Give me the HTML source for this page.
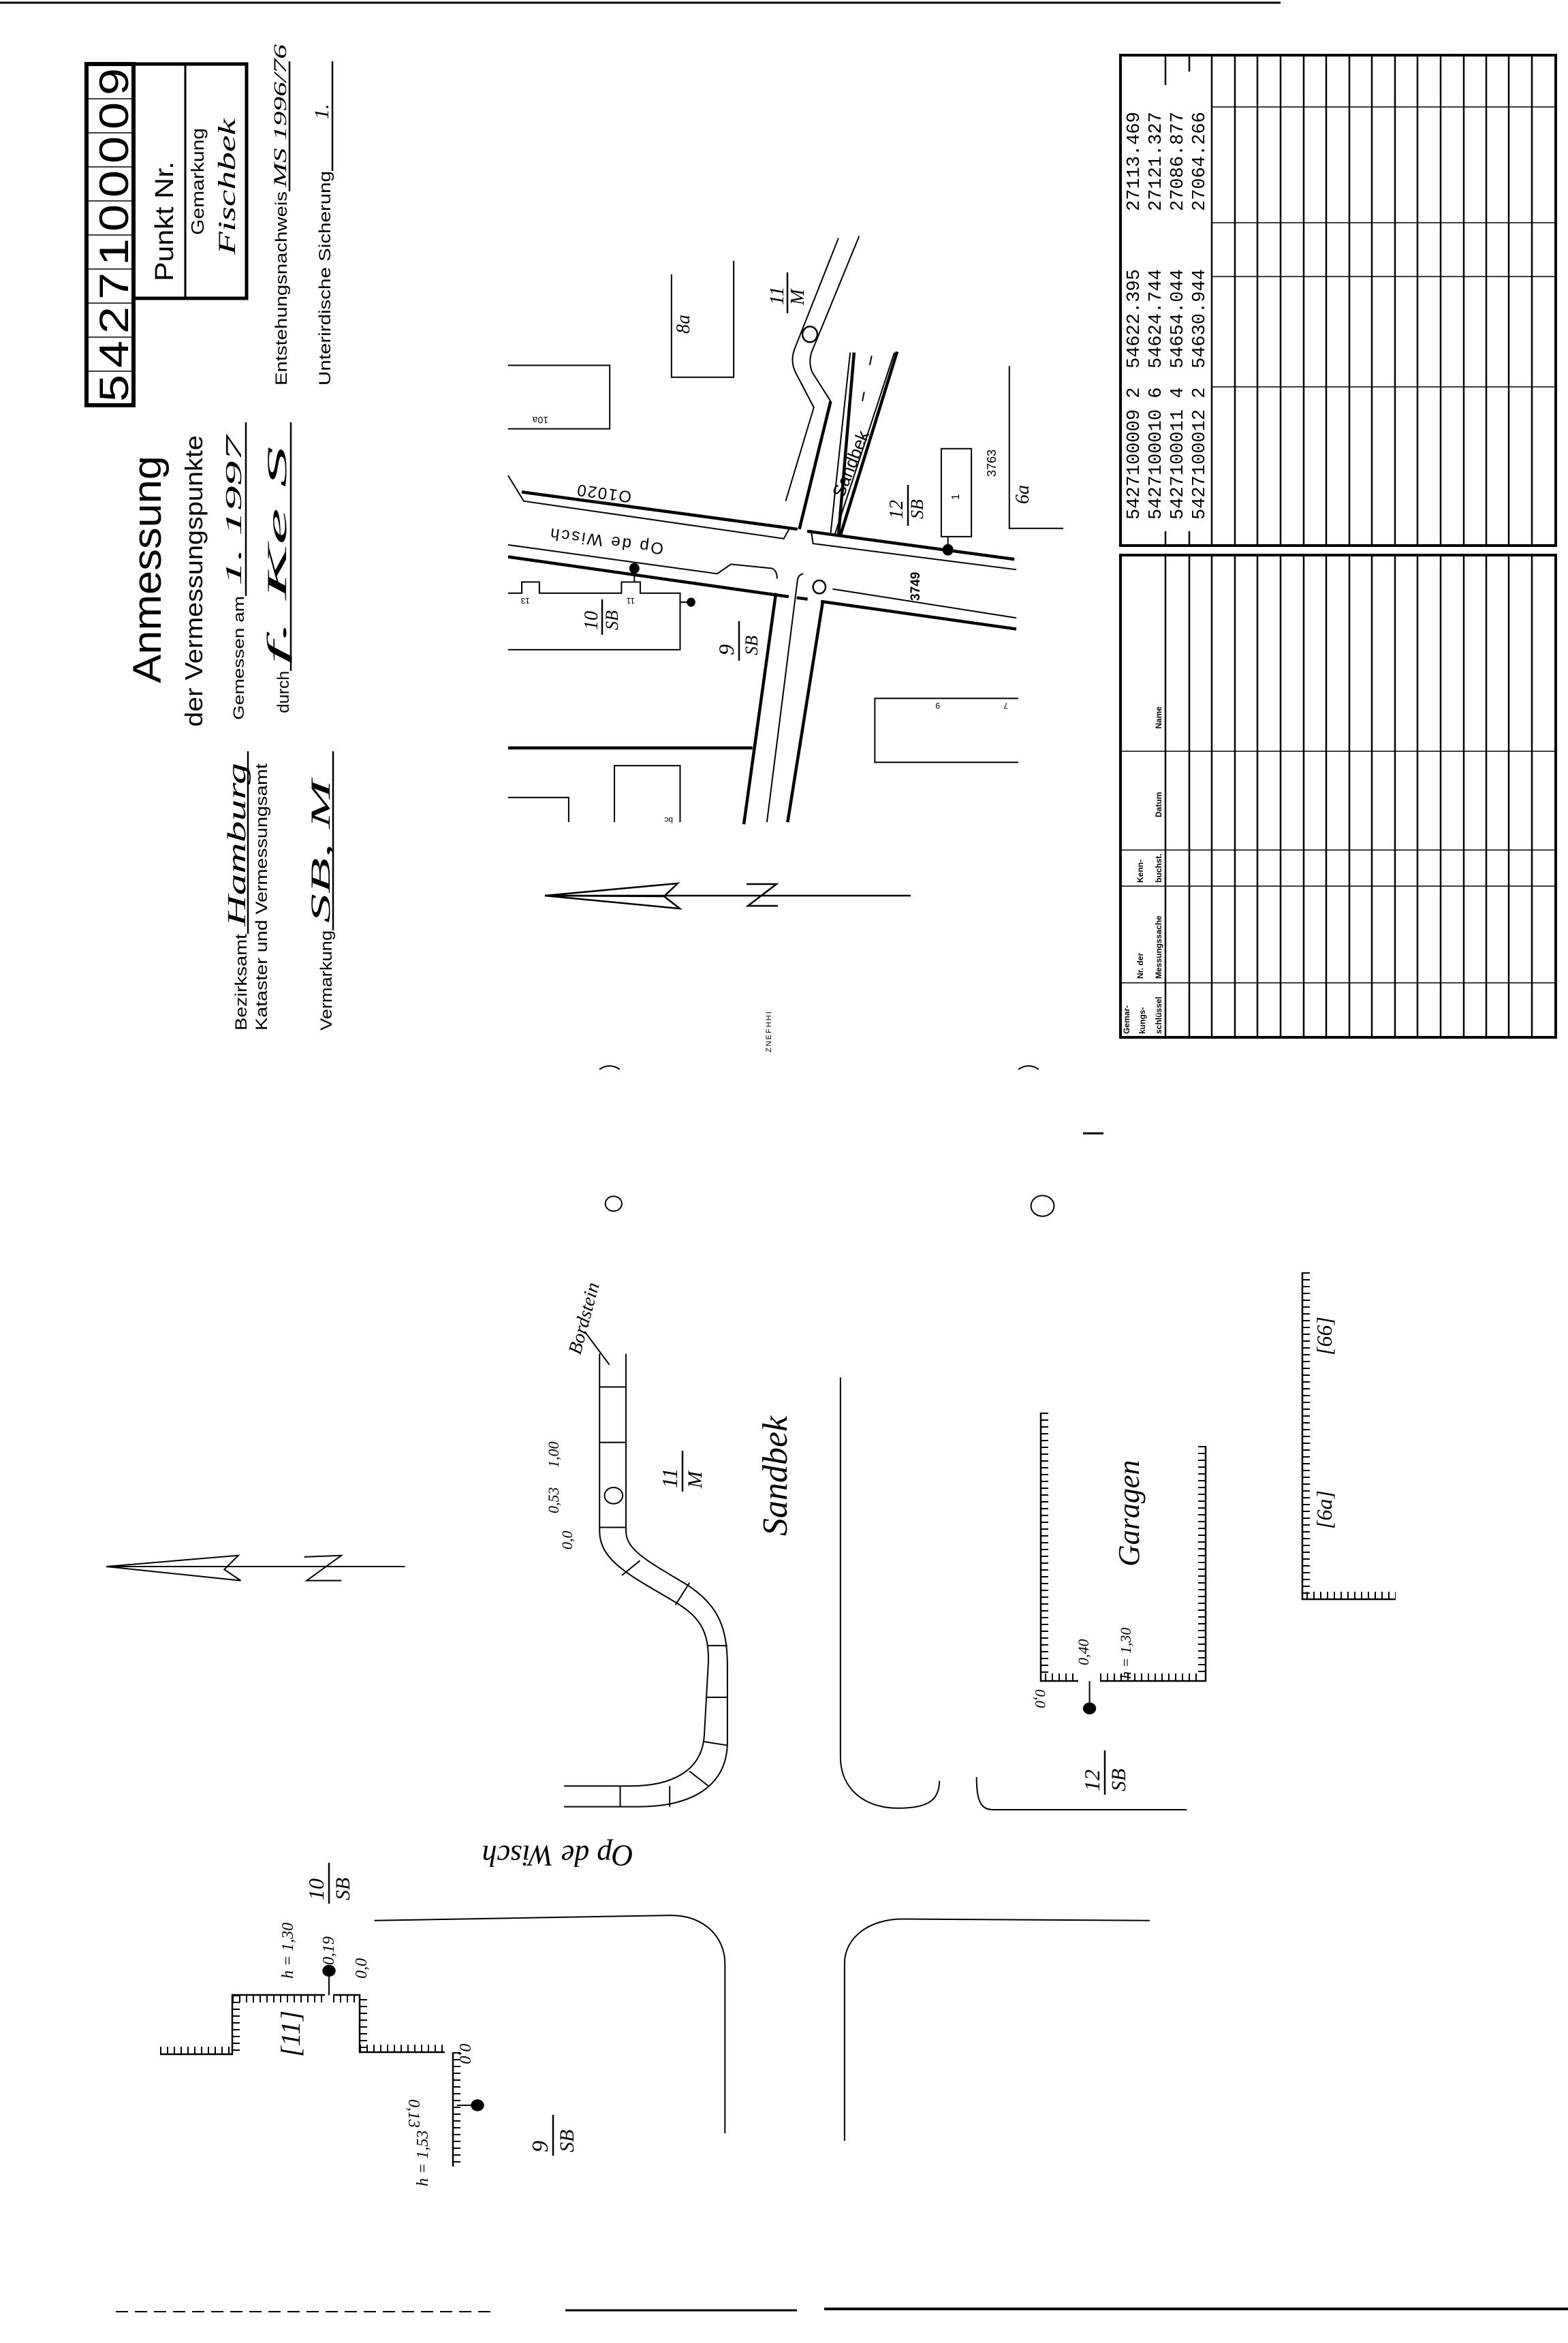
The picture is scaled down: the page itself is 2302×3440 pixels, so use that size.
<!DOCTYPE html>
<html><head><meta charset="utf-8"><style>
html,body{margin:0;padding:0;background:#fff;}
svg{display:block;}
text{font-family:"Liberation Sans",sans-serif;fill:#000;}
.hw{font-family:"Liberation Serif",serif;font-style:italic;}
.hh{font-family:"Liberation Serif",serif;font-style:italic;fill:#fff;stroke:#000;stroke-width:1.6;}
.mono{font-family:"Liberation Mono",monospace;}
.ns{vector-effect:non-scaling-stroke;}
</style></head><body>
<svg width="2302" height="3440" viewBox="0 0 2302 3440" xmlns="http://www.w3.org/2000/svg">
<rect width="2302" height="3440" fill="#fff"/>
<!-- page edges -->
<line x1="0" y1="4" x2="1880" y2="4" stroke="#000" stroke-width="3"/>
<line x1="830" y1="3392" x2="1170" y2="3392" stroke="#000" stroke-width="3"/>
<line x1="1210" y1="3390" x2="2302" y2="3390" stroke="#000" stroke-width="4"/>
<line x1="170" y1="3394" x2="720" y2="3394" stroke="#000" stroke-width="2" stroke-dasharray="18 10"/>
<line x1="1590" y1="1664" x2="1620" y2="1664" stroke="#000" stroke-width="3"/>

<!-- HEADER BOX -->
<g fill="none" stroke="#000">
<rect x="127" y="94" width="69" height="501" stroke-width="6"/>
<polyline points="196,94 362,94 362,438 196,438" stroke-width="5"/>
<line x1="272" y1="94" x2="272" y2="438" stroke-width="3"/>
<g stroke-width="1.5">
<line x1="127" y1="145" x2="196" y2="145"/><line x1="127" y1="195" x2="196" y2="195"/>
<line x1="127" y1="245" x2="196" y2="245"/><line x1="127" y1="295" x2="196" y2="295"/>
<line x1="127" y1="345" x2="196" y2="345"/><line x1="127" y1="395" x2="196" y2="395"/>
<line x1="127" y1="445" x2="196" y2="445"/><line x1="127" y1="495" x2="196" y2="495"/>
<line x1="127" y1="545" x2="196" y2="545"/>
</g>
</g>
<g font-size="60">
<text transform="translate(188,590) rotate(-90)" textLength="40" lengthAdjust="spacingAndGlyphs">5</text>
<text transform="translate(188,540) rotate(-90)" textLength="40" lengthAdjust="spacingAndGlyphs">4</text>
<text transform="translate(188,490) rotate(-90)" textLength="40" lengthAdjust="spacingAndGlyphs">2</text>
<text transform="translate(188,440) rotate(-90)" textLength="40" lengthAdjust="spacingAndGlyphs">7</text>
<text transform="translate(188,390) rotate(-90)" textLength="40" lengthAdjust="spacingAndGlyphs">1</text>
<text transform="translate(188,340) rotate(-90)" textLength="40" lengthAdjust="spacingAndGlyphs">0</text>
<text transform="translate(188,290) rotate(-90)" textLength="40" lengthAdjust="spacingAndGlyphs">0</text>
<text transform="translate(188,240) rotate(-90)" textLength="40" lengthAdjust="spacingAndGlyphs">0</text>
<text transform="translate(188,190) rotate(-90)" textLength="40" lengthAdjust="spacingAndGlyphs">0</text>
<text transform="translate(188,140) rotate(-90)" textLength="40" lengthAdjust="spacingAndGlyphs">9</text>
</g>
<text transform="translate(254,413) rotate(-90)" font-size="38" textLength="176" lengthAdjust="spacingAndGlyphs">Punkt Nr.</text>
<text transform="translate(299,345) rotate(-90)" font-size="26" textLength="157" lengthAdjust="spacingAndGlyphs">Gemarkung</text>
<text class="hw" transform="translate(345,374) rotate(-90)" font-size="36" textLength="200" lengthAdjust="spacingAndGlyphs" fill="#333">Fischbek</text>

<text transform="translate(236,1003) rotate(-90)" font-size="58" textLength="334" lengthAdjust="spacingAndGlyphs">Anmessung</text>
<text transform="translate(297,1067) rotate(-90)" font-size="36" textLength="428" lengthAdjust="spacingAndGlyphs">der Vermessungspunkte</text>
<text transform="translate(358,1057) rotate(-90)" font-size="22" textLength="182" lengthAdjust="spacingAndGlyphs">Gemessen am</text>
<text class="hw" transform="translate(354,860) rotate(-90)" font-size="34" textLength="220" lengthAdjust="spacingAndGlyphs" fill="#333">1. 1997</text>
<text transform="translate(424,1047) rotate(-90)" font-size="24" textLength="62" lengthAdjust="spacingAndGlyphs">durch</text>
<text class="hw" transform="translate(420,975) rotate(-90)" font-size="40" textLength="320" lengthAdjust="spacingAndGlyphs" fill="#333">f.  Ke  S</text>
<text transform="translate(362,1513) rotate(-90)" font-size="24" textLength="142" lengthAdjust="spacingAndGlyphs">Bezirksamt</text>
<text class="hw" transform="translate(360,1360) rotate(-90)" font-size="38" textLength="240" lengthAdjust="spacingAndGlyphs" fill="#333">Hamburg</text>
<text transform="translate(392,1513) rotate(-90)" font-size="24" textLength="392" lengthAdjust="spacingAndGlyphs">Kataster und Vermessungsamt</text>
<text transform="translate(487,1513) rotate(-90)" font-size="24" textLength="147" lengthAdjust="spacingAndGlyphs">Vermarkung</text>
<text class="hw" transform="translate(484,1355) rotate(-90)" font-size="40" textLength="210" lengthAdjust="spacingAndGlyphs" fill="#333">SB, M</text>
<text transform="translate(421,566) rotate(-90)" font-size="24" textLength="285" lengthAdjust="spacingAndGlyphs">Entstehungsnachweis</text>
<text class="hw" transform="translate(420,275) rotate(-90)" font-size="26" textLength="210" lengthAdjust="spacingAndGlyphs" fill="#333">MS 1996/76</text>
<text transform="translate(485,566) rotate(-90)" font-size="24" textLength="315" lengthAdjust="spacingAndGlyphs">Unterirdische Sicherung</text>
<text class="hw" transform="translate(482,175) rotate(-90)" font-size="30">1.</text>
<g stroke="#000" stroke-width="2.5">
<line x1="361" y1="875" x2="361" y2="620"/>
<line x1="427" y1="985" x2="427" y2="620"/>
<line x1="364" y1="1371" x2="364" y2="1103"/>
<line x1="489" y1="1366" x2="489" y2="1103"/>
<line x1="425" y1="281" x2="425" y2="90"/>
<line x1="488" y1="251" x2="488" y2="90"/>
</g>

<!-- MAP -->
<g transform="translate(700,280) scale(0.574,0.606)" fill="none" stroke="#000">
<g stroke-width="2" class="ns">
<polyline class="ns" points="80,423 340,423 340,577 80,577"/>
<polyline class="ns" points="498,203 498,452 657,452 657,170"/>
<path class="ns" d="M925,115 L815,378 Q800,410 815,440 L862,525 L790,752"/>
<path class="ns" d="M978,110 L862,378 Q845,410 858,440 L905,510"/>
<line class="ns" x1="955" y1="392" x2="905" y2="830"/>
<line class="ns" x1="1068" y1="392" x2="915" y2="835"/>
<path class="ns" d="M80,690 L120,752 L785,843 L800,818"/>
<path class="ns" d="M855,822 L860,855 L1380,918"/>
<path class="ns" d="M80,858 L615,928 L650,905 L755,915 Q768,920 768,940"/>
<path class="ns" d="M835,928 Q822,930 820,945 L742,1530"/>
<path class="ns" d="M910,965 L1380,1035"/>
<polyline class="ns" points="80,975 115,975 115,948 160,948 160,975 370,975 370,948 418,948 418,975 520,975 520,1112 80,1112"/>
<rect class="ns" x="1188" y="625" width="77" height="213"/>
<polyline class="ns" points="1362,425 1362,818 1500,818"/>
<polyline class="ns" points="1385,1230 1018,1230 1018,1385 1385,1385"/>
<polyline class="ns" points="352,1530 352,1393 520,1393 520,1530"/>
<polyline class="ns" points="80,1470 235,1470 235,1530"/>
<line class="ns" x1="403" y1="915" x2="403" y2="948"/>
<line class="ns" x1="520" y1="997" x2="548" y2="997"/>
<line class="ns" x1="1205" y1="870" x2="1205" y2="838"/>
<line class="ns" x1="1010" y1="400" x2="975" y2="560" stroke-dasharray="14 40"/>
</g>
<g stroke-width="4.5">
<path class="ns" d="M905,510 L825,820"/>
<line class="ns" x1="965" y1="392" x2="925" y2="835"/>
<line class="ns" x1="1075" y1="390" x2="930" y2="835"/>
<line class="ns" x1="115" y1="730" x2="820" y2="820"/>
<line class="ns" x1="845" y1="825" x2="1375" y2="893"/>
<line class="ns" x1="80" y1="887" x2="770" y2="980"/>
<line class="ns" x1="770" y1="980" x2="850" y2="990" stroke-dasharray="16 12"/>
<line class="ns" x1="880" y1="995" x2="1380" y2="1062"/>
<line class="ns" x1="765" y1="975" x2="683" y2="1535"/>
<line class="ns" x1="885" y1="995" x2="795" y2="1530"/>
<line class="ns" x1="80" y1="1350" x2="705" y2="1350"/>
</g>
<circle class="ns" cx="852" cy="348" r="19" stroke-width="2.5"/>
<circle class="ns" cx="876" cy="960" r="16" stroke-width="2.5"/>
<circle cx="403" cy="915" r="13" fill="#000" stroke="none"/>
<circle cx="548" cy="997" r="11" fill="#000" stroke="none"/>
<circle cx="1205" cy="870" r="14" fill="#000" stroke="none"/>
</g>
<g>
<text transform="translate(805,612) rotate(180)" font-size="14">10a</text>
<text class="hw" transform="translate(1012,490) rotate(-90)" font-size="28">8a</text>
<text class="hw" transform="translate(1150,448) rotate(-90)" font-size="30">11</text>
<line x1="1156" y1="400" x2="1156" y2="460" stroke="#000" stroke-width="2.5"/>
<text class="hw" transform="translate(1180,448) rotate(-90)" font-size="28">M</text>
<text transform="translate(928,722) rotate(187.7)" font-size="24" letter-spacing="2">O1020</text>
<text transform="translate(975,798) rotate(187.7)" font-size="24" letter-spacing="3">Op de Wisch</text>
<text transform="translate(1238,732) rotate(-68)" font-size="26">Sandbek</text>
<text transform="translate(1462,700) rotate(-90)" font-size="18">3763</text>
<text class="hw" transform="translate(1510,740) rotate(-90)" font-size="28">6a</text>
<text class="hw" transform="translate(1325,762) rotate(-90)" font-size="28">12</text>
<line x1="1333" y1="712" x2="1333" y2="772" stroke="#000" stroke-width="2.5"/>
<text class="hw" transform="translate(1355,762) rotate(-90)" font-size="26">SB</text>
<text transform="translate(1408,734) rotate(-90)" font-size="16">1</text>
<text transform="translate(1350,882) rotate(-90)" font-size="19" font-weight="bold">3749</text>
<text class="hw" transform="translate(877,925) rotate(-90)" font-size="28">10</text>
<line x1="884" y1="880" x2="884" y2="932" stroke="#000" stroke-width="2.5"/>
<text class="hw" transform="translate(907,925) rotate(-90)" font-size="26">SB</text>
<text class="hw" transform="translate(1077,962) rotate(-90)" font-size="32">9</text>
<line x1="1085" y1="912" x2="1085" y2="970" stroke="#000" stroke-width="2.5"/>
<text class="hw" transform="translate(1112,962) rotate(-90)" font-size="26">SB</text>
<text transform="translate(778,878) rotate(180)" font-size="12">13</text>
<text transform="translate(932,878) rotate(180)" font-size="12">11</text>
<text transform="translate(1380,1032) rotate(180)" font-size="12">9</text>
<text transform="translate(1480,1032) rotate(180)" font-size="12">7</text>
<text transform="translate(988,1200) rotate(180)" font-size="12">bc</text>
</g>

<!-- upper north arrow -->
<g fill="none" stroke="#000" stroke-width="2.5">
<line x1="800" y1="1315" x2="1337" y2="1315"/>
<polyline points="800,1315 995,1297 975,1316 998,1334 800,1315"/>
<line x1="800" y1="1315" x2="975" y2="1316"/>
<polyline points="1096,1298 1140,1298 1098,1330 1142,1330"/>
</g>
<text transform="translate(1132,1545) rotate(-90)" font-size="11" letter-spacing="2">ZNEFHHI</text>
<path d="M880,1570 Q895,1560 910,1570" fill="none" stroke="#000" stroke-width="2"/>
<path d="M1495,1570 Q1510,1560 1525,1570" fill="none" stroke="#000" stroke-width="2"/>

<!-- TABLE -->
<g fill="none" stroke="#000">
<rect x="1645" y="81" width="639" height="720" stroke-width="4"/>
<rect x="1645" y="815" width="639" height="708" stroke-width="4"/>
<g stroke-width="2.5">
<line x1="1779" y1="81" x2="1779" y2="801"/><line x1="1813" y1="81" x2="1813" y2="801"/>
<line x1="1846" y1="81" x2="1846" y2="801"/><line x1="1880" y1="81" x2="1880" y2="801"/>
<line x1="1914" y1="81" x2="1914" y2="801"/><line x1="1947" y1="81" x2="1947" y2="801"/>
<line x1="1981" y1="81" x2="1981" y2="801"/><line x1="2014" y1="81" x2="2014" y2="801"/>
<line x1="2048" y1="81" x2="2048" y2="801"/><line x1="2081" y1="81" x2="2081" y2="801"/>
<line x1="2115" y1="81" x2="2115" y2="801"/><line x1="2149" y1="81" x2="2149" y2="801"/>
<line x1="2182" y1="81" x2="2182" y2="801"/><line x1="2215" y1="81" x2="2215" y2="801"/>
<line x1="2249" y1="81" x2="2249" y2="801"/>
<line x1="1711" y1="81" x2="1711" y2="125"/><line x1="1746" y1="81" x2="1746" y2="105"/>
<line x1="1711" y1="780" x2="1711" y2="801"/><line x1="1746" y1="780" x2="1746" y2="801"/>
<line x1="1711" y1="815" x2="1711" y2="1523"/><line x1="1746" y1="815" x2="1746" y2="1523"/>
<line x1="1779" y1="815" x2="1779" y2="1523"/><line x1="1813" y1="815" x2="1813" y2="1523"/>
<line x1="1846" y1="815" x2="1846" y2="1523"/><line x1="1880" y1="815" x2="1880" y2="1523"/>
<line x1="1914" y1="815" x2="1914" y2="1523"/><line x1="1947" y1="815" x2="1947" y2="1523"/>
<line x1="1981" y1="815" x2="1981" y2="1523"/><line x1="2014" y1="815" x2="2014" y2="1523"/>
<line x1="2048" y1="815" x2="2048" y2="1523"/><line x1="2081" y1="815" x2="2081" y2="1523"/>
<line x1="2115" y1="815" x2="2115" y2="1523"/><line x1="2149" y1="815" x2="2149" y2="1523"/>
<line x1="2182" y1="815" x2="2182" y2="1523"/><line x1="2215" y1="815" x2="2215" y2="1523"/>
<line x1="2249" y1="815" x2="2249" y2="1523"/>
</g>
<g stroke-width="1.5">
<line x1="1779" y1="157" x2="2284" y2="157"/>
<line x1="1779" y1="327" x2="2284" y2="327"/>
<line x1="1779" y1="406" x2="2284" y2="406"/>
<line x1="1779" y1="568" x2="2284" y2="568"/>
<line x1="1645" y1="1103" x2="2284" y2="1103"/>
<line x1="1645" y1="1248" x2="2284" y2="1248"/>
<line x1="1645" y1="1301" x2="2284" y2="1301"/>
<line x1="1645" y1="1443" x2="2284" y2="1443"/>
</g>
</g>
<g class="mono" font-size="27">
<text class="mono" transform="translate(1672,763) rotate(-90)">5427100009 2</text>
<text class="mono" transform="translate(1704,763) rotate(-90)">5427100010 6</text>
<text class="mono" transform="translate(1736,763) rotate(-90)">5427100011 4</text>
<text class="mono" transform="translate(1768,763) rotate(-90)">5427100012 2</text>
<text class="mono" transform="translate(1672,541) rotate(-90)">54622.395</text>
<text class="mono" transform="translate(1704,541) rotate(-90)">54624.744</text>
<text class="mono" transform="translate(1736,541) rotate(-90)">54654.044</text>
<text class="mono" transform="translate(1768,541) rotate(-90)">54630.944</text>
<text class="mono" transform="translate(1672,310) rotate(-90)">27113.469</text>
<text class="mono" transform="translate(1704,310) rotate(-90)">27121.327</text>
<text class="mono" transform="translate(1736,310) rotate(-90)">27086.877</text>
<text class="mono" transform="translate(1768,310) rotate(-90)">27064.266</text>
</g>
<g font-size="12" font-weight="bold">
<text transform="translate(1705,1070) rotate(-90)">Name</text>
<text transform="translate(1705,1200) rotate(-90)">Datum</text>
<text transform="translate(1678,1296) rotate(-90)">Kenn-</text>
<text transform="translate(1705,1296) rotate(-90)">buchst.</text>
<text transform="translate(1678,1437) rotate(-90)">Nr. der</text>
<text transform="translate(1705,1437) rotate(-90)">Messungssache</text>
<text transform="translate(1658,1518) rotate(-90)">Gemar-</text>
<text transform="translate(1681,1518) rotate(-90)">kungs-</text>
<text transform="translate(1705,1518) rotate(-90)">schlüssel</text>
</g>

<!-- LOWER SKETCH -->
<g transform="translate(150,1700) scale(1.211,1.085)" fill="none" stroke="#000">
<g stroke-width="2" class="ns">
<path class="ns" d="M603,265 L603,505 C603,545 640,565 690,598 C725,620 735,640 735,680 L730,780 C728,830 690,850 640,850 L560,850"/>
<path class="ns" d="M635,265 L635,505 C635,530 660,545 705,575 C750,605 758,640 758,690 L758,790 C758,850 715,878 650,878 L560,878"/>
<path class="ns" d="M603,310 L635,310 M603,385 L635,385 M603,500 L635,500 M630,565 L652,545 M695,605 L712,575 M733,660 L758,660 M733,730 L758,730 M730,790 L758,795 M712,830 L735,850 M688,850 L688,878 M628,850 L628,878"/>
<path class="ns" d="M585,235 L615,280"/>
<path class="ns" d="M895,297 L895,810 C895,855 925,880 965,880 C1000,880 1015,870 1015,843"/>
<path class="ns" d="M1060,838 C1060,870 1065,882 1080,882 L1315,882"/>
<path class="ns" d="M330,1032 L690,1025 C730,1025 755,1055 755,1090 L755,1320"/>
<path class="ns" d="M900,1330 L900,1090 C900,1055 930,1030 970,1030 L1270,1032"/>
<circle class="ns" cx="620" cy="457" r="11"/>
<circle class="ns" cx="620" cy="62" r="10"/>
<circle class="ns" cx="1140" cy="65" r="14"/>
<line class="ns" x1="275" y1="1100" x2="275" y2="1133"/>
<line class="ns" x1="430" y1="1282" x2="455" y2="1282"/>
<line class="ns" x1="1197" y1="745" x2="1197" y2="708"/>
<line class="ns" x1="5" y1="553" x2="367" y2="553"/>
<polyline class="ns" points="5,553 165,538 148,557 168,572 5,553"/>
<polyline class="ns" points="245,540 290,538 248,572 290,572"/>
</g>
<circle cx="275" cy="1100" r="8" fill="#000" stroke="none"/>
<circle cx="455" cy="1282" r="8" fill="#000" stroke="none"/>
<circle cx="1197" cy="745" r="8" fill="#000" stroke="none"/>
</g>
<!-- hatched walls -->
<g fill="none" stroke="#000">
<g stroke-width="2.5">
<path d="M1528,2074 L1528,2468 L1583,2468 M1615,2468 L1770,2468 L1770,2123"/>
<path d="M1912,1868 L1912,2348 L2049,2348"/>
<path d="M235,3016 L341,3016 L341,2929 L477,2929 M489,2929 L528,2929 L528,3013 L653,3013 M665,3013 L665,3181"/>
</g>
<g stroke-width="10" stroke-dasharray="2 8">
<line x1="1534" y1="2074" x2="1534" y2="2462"/>
<line x1="1534" y1="2462" x2="1583" y2="2462"/>
<line x1="1615" y1="2462" x2="1764" y2="2462"/>
<line x1="1764" y1="2123" x2="1764" y2="2462"/>
<line x1="1918" y1="1868" x2="1918" y2="2342"/>
<line x1="1918" y1="2342" x2="2049" y2="2342"/>
<line x1="235" y1="3010" x2="341" y2="3010"/>
<line x1="347" y1="2929" x2="347" y2="3016"/>
<line x1="341" y1="2935" x2="477" y2="2935"/>
<line x1="489" y1="2935" x2="528" y2="2935"/>
<line x1="534" y1="2935" x2="534" y2="3013"/>
<line x1="528" y1="3007" x2="653" y2="3007"/>
<line x1="671" y1="3013" x2="671" y2="3181"/>
</g>
</g>
<g class="hw">
<text class="hw" transform="translate(852,1990) rotate(-75)" font-size="28">Bordstein</text>
<text class="hw" transform="translate(820,2155) rotate(-90)" font-size="22">1,00</text>
<text class="hw" transform="translate(820,2222) rotate(-90)" font-size="22">0,53</text>
<text class="hw" transform="translate(840,2275) rotate(-90)" font-size="22">0,0</text>
<text class="hw" transform="translate(994,2185) rotate(-90)" font-size="32">11</text>
<line x1="1002" y1="2130" x2="1002" y2="2190" stroke="#000" stroke-width="2.5"/>
<text class="hw" transform="translate(1030,2185) rotate(-90)" font-size="30">M</text>
<text class="hw" transform="translate(1155,2255) rotate(-90)" font-size="52">Sandbek</text>
<text class="hw" transform="translate(1672,2300) rotate(-90)" font-size="44">Garagen</text>
<text class="hw" transform="translate(1598,2445) rotate(-90)" font-size="22">0,40</text>
<text class="hw" transform="translate(1660,2465) rotate(-90)" font-size="22">h = 1,30</text>
<text class="hw" transform="translate(1520,2480) rotate(90)" font-size="22">0,0</text>
<text class="hw" transform="translate(1614,2630) rotate(-90)" font-size="32">12</text>
<line x1="1622" y1="2570" x2="1622" y2="2635" stroke="#000" stroke-width="2.5"/>
<text class="hw" transform="translate(1652,2630) rotate(-90)" font-size="30">SB</text>
<text class="hw" transform="translate(1955,1990) rotate(-90)" font-size="32">[66]</text>
<text class="hw" transform="translate(1955,2245) rotate(-90)" font-size="32">[6a]</text>
<text class="hw" transform="translate(930,2710) rotate(180)" font-size="44">Op de Wisch</text>
<text class="hw" transform="translate(475,2790) rotate(-90)" font-size="32">10</text>
<line x1="483" y1="2735" x2="483" y2="2795" stroke="#000" stroke-width="2.5"/>
<text class="hw" transform="translate(513,2790) rotate(-90)" font-size="30">SB</text>
<text class="hw" transform="translate(430,2905) rotate(-90)" font-size="24">h = 1,30</text>
<text class="hw" transform="translate(490,2885) rotate(-90)" font-size="24">0,19</text>
<text class="hw" transform="translate(538,2905) rotate(-90)" font-size="24">0,0</text>
<text class="hw" transform="translate(440,3020) rotate(-90)" font-size="40">[11]</text>
<text class="hw" transform="translate(675,3000) rotate(90)" font-size="24">0,0</text>
<text class="hw" transform="translate(600,3082) rotate(90)" font-size="24">0,13</text>
<text class="hw" transform="translate(628,3210) rotate(-90)" font-size="24">h = 1,53</text>
<text class="hw" transform="translate(804,3160) rotate(-90)" font-size="34">9</text>
<line x1="812" y1="3105" x2="812" y2="3165" stroke="#000" stroke-width="2.5"/>
<text class="hw" transform="translate(842,3160) rotate(-90)" font-size="30">SB</text>
</g>
</svg>
</body></html>
